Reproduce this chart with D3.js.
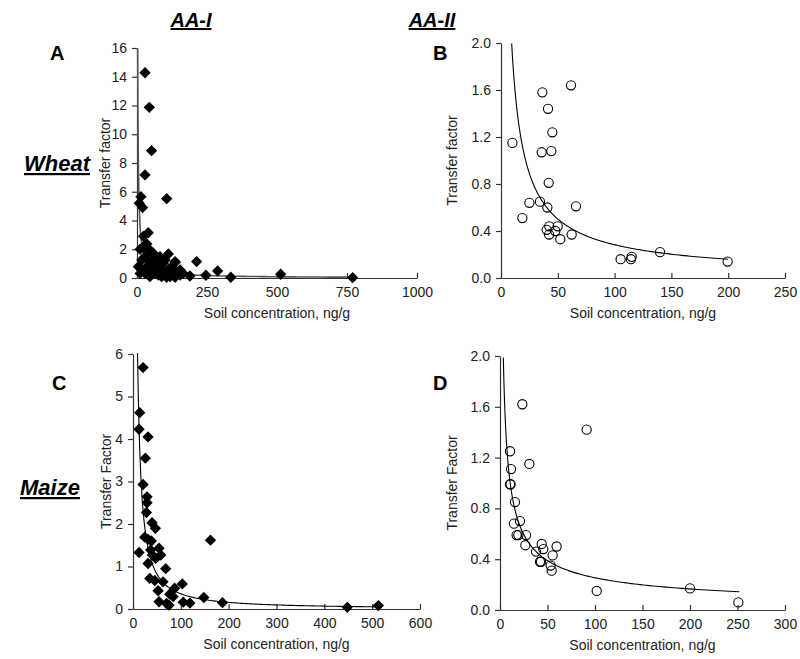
<!DOCTYPE html>
<html><head><meta charset="utf-8">
<script src="https://cdn.jsdelivr.net/npm/d3@7"></script>
<style>body{margin:0;background:#fff} text{font-family:Arial,"Liberation Sans",sans-serif}</style>
</head><body><svg id="c" width="800" height="659"></svg>
<script>
// ---- Data ----
const colTitles = ["AA-I", "AA-II"];
const rowTitles = ["Wheat", "Maize"];
const panelLetters = ["A", "B", "C", "D"];
const yTitles = ["Transfer factor", "Transfer factor", "Transfer Factor", "Transfer Factor"];
const xTitle = "Soil concentration, ng/g";

const ticksAx = [0, 250, 500, 750, 1000];
const ticksAy = [0, 2, 4, 6, 8, 10, 12, 14, 16];
const ticksBx = [0, 50, 100, 150, 200, 250];
const ticksBy = [0, 0.4, 0.8, 1.2, 1.6, 2.0];
const ticksCx = [0, 100, 200, 300, 400, 500, 600];
const ticksCy = [0, 1, 2, 3, 4, 5, 6];
const ticksDx = [0, 50, 100, 150, 200, 250, 300];
const ticksDy = [0, 0.4, 0.8, 1.2, 1.6, 2.0];

// Panel A: wheat, AA-I
const wheatAAI_x = [28.6, 44, 52, 28.6, 106, 14, 8, 20, 40, 23, 35, 11, 112, 213, 136, 288, 246, 189, 335, 513, 770,
  4.8, 16.7, 28.6, 40.5, 52.4, 64.3, 76.2, 88.1, 94, 100, 112, 118, 124, 130, 142, 154, 165, 46, 70, 82, 58, 40, 29, 23, 46, 76, 106, 136, 154, 17, 35, 11, 52, 64, 88, 100, 136];
const wheatAAI_y = [14.28, 11.87, 8.86, 7.17, 5.52, 5.66, 5.2, 4.9, 3.15, 2.9, 2.37, 2.0, 1.67, 1.14, 1.07, 0.49, 0.19, 0.14, 0.05, 0.26, 0.02,
  0.79, 0.56, 0.32, 1.25, 0.79, 0.32, 0.56, 0.09, 1.02, 0.32, 0.56, 0.09, 0.79, 0.32, 0.44, 0.21, 0.32, 0.09, 1.14, 1.48, 1.72, 1.72, 1.48, 2.18, 1.95, 0.21, 0.05, 0.05, 0.56, 1.25, 0.79, 0.32, 0.44, 1.37, 0.67, 1.25, 1.14];

// Panel B: wheat, AA-II
const wheatAAII_x = [61.6, 36.4, 41.4, 45.2, 10, 35.8, 44.3, 42, 25, 34.3, 40.8, 66, 18.8, 42.5, 49.9, 40.2, 47.8, 42.3, 52.2, 62.2, 105.3, 114.4, 115, 140, 199.5];
const wheatAAII_y = [1.64, 1.58, 1.44, 1.24, 1.15, 1.07, 1.08, 0.81, 0.64, 0.65, 0.60, 0.61, 0.51, 0.44, 0.44, 0.41, 0.40, 0.37, 0.33, 0.37, 0.16, 0.16, 0.18, 0.22, 0.14];

// Panel C: maize, AA-I
const maizeAAI_x = [21, 14, 12.6, 31.4, 25.8, 21, 29.3, 29.3, 28, 39.8, 46.8, 162, 24.4, 31.4, 38.4, 12.6, 37, 54.5, 58, 40.5, 47.5, 31.4, 68.4, 35, 45.4, 62.8, 103, 87, 52.4, 76.8, 84, 148, 54.5, 70, 75.4, 105, 119, 187, 448, 513];
const maizeAAI_y = [5.68, 4.62, 4.23, 4.05, 3.55, 2.93, 2.64, 2.5, 2.27, 2.03, 1.9, 1.62, 1.69, 1.64, 1.6, 1.33, 1.39, 1.43, 1.27, 1.27, 1.19, 1.07, 0.95, 0.72, 0.67, 0.64, 0.59, 0.49, 0.43, 0.35, 0.29, 0.27, 0.17, 0.13, 0.09, 0.16, 0.14, 0.15, 0.04, 0.08];

// Panel D: maize, AA-II
const maizeAAII_x = [23.5, 91.2, 10.5, 11.6, 30.9, 10.5, 11.2, 15.8, 14.7, 21, 17.5, 19.3, 27.4, 26.7, 37.9, 43.9, 45.6, 59.6, 42.1, 43.2, 55.4, 53.3, 54.4, 101.8, 200, 250.9];
const maizeAAII_y = [1.62, 1.42, 1.25, 1.11, 1.15, 0.99, 0.99, 0.85, 0.68, 0.70, 0.59, 0.59, 0.59, 0.51, 0.46, 0.52, 0.48, 0.50, 0.38, 0.38, 0.43, 0.35, 0.31, 0.15, 0.17, 0.06];

// power-law trend lines y = a * x^-b, drawn between xStart and xEnd
const trendA = [38, 0.98, 2.42, 770];
const trendB = [12.7, 0.826, 9.4, 200];
const trendC = [89.8, 1.2, 9.5, 517];
const trendD = [4.29, 0.614, 3.5, 252];

// ---- Drawing ----
const svg = d3.select("#c");
const panels = [
  {xs: wheatAAI_x, ys: wheatAAI_y, xd: [0, 1000], yd: [0, 16], xt: ticksAx, yt: ticksAy, fmt: d3.format("d"), x0: 137, x1: 417, y0: 278, y1: 48, mk: "diamond", tr: trendA, lineCol: "#555", lineW: 1.6, lx: 50, ly: 60, yl: 110},
  {xs: wheatAAII_x, ys: wheatAAII_y, xd: [0, 250], yd: [0, 2], xt: ticksBx, yt: ticksBy, fmt: d3.format(".1f"), x0: 501, x1: 785, y0: 278, y1: 43, mk: "circle", tr: trendB, lineCol: "#000", lineW: 1.1, lx: 433, ly: 60, yl: 457},
  {xs: maizeAAI_x, ys: maizeAAI_y, xd: [0, 600], yd: [0, 6], xt: ticksCx, yt: ticksCy, fmt: d3.format("d"), x0: 133, x1: 420, y0: 609, y1: 354, mk: "diamond", tr: trendC, lineCol: "#000", lineW: 1.1, lx: 52, ly: 390, yl: 111},
  {xs: maizeAAII_x, ys: maizeAAII_y, xd: [0, 300], yd: [0, 2], xt: ticksDx, yt: ticksDy, fmt: d3.format(".1f"), x0: 500, x1: 785, y0: 610, y1: 356, mk: "circle", tr: trendD, lineCol: "#000", lineW: 1.1, lx: 433, ly: 390, yl: 457}
];

panels.forEach((p, i) => {
  const x = d3.scaleLinear().domain(p.xd).range([p.x0, p.x1]);
  const y = d3.scaleLinear().domain(p.yd).range([p.y0, p.y1]);
  const g = svg.append("g");

  // x axis (ticks pointing up into plot)
  const gx = g.append("g").attr("transform", `translate(0,${p.y0})`)
    .call(d3.axisBottom(x).tickValues(p.xt).tickSizeInner(-5).tickSizeOuter(0).tickPadding(9).tickFormat(d3.format("d")));
  // y axis
  const gy = g.append("g").attr("transform", `translate(${p.x0},0)`)
    .call(d3.axisLeft(y).tickValues(p.yt).tickSizeInner(5).tickSizeOuter(0).tickPadding(5).tickFormat(p.fmt));
  [gx, gy].forEach(a => {
    a.select(".domain").attr("stroke", "#333").attr("stroke-width", 1.2);
    a.selectAll(".tick line").attr("stroke", "#333").attr("stroke-width", 1.2);
    a.selectAll(".tick text").attr("font-size", 14).attr("fill", "#222").attr("font-family", "Arial, 'Liberation Sans', sans-serif");
  });

  // trend line
  const [a, b, xs0, xs1] = p.tr;
  const n = 200;
  const pts = d3.range(n + 1).map(k => {
    const xv = xs0 * Math.pow(xs1 / xs0, k / n);
    return [xv, a * Math.pow(xv, -b)];
  });
  g.append("path").datum(pts)
    .attr("d", d3.line().x(d => x(d[0])).y(d => y(d[1])))
    .attr("fill", "none").attr("stroke", p.lineCol).attr("stroke-width", p.lineW);

  // points
  const data = p.xs.map((v, k) => [v, p.ys[k]]);
  if (p.mk === "diamond") {
    g.append("g").selectAll("path").data(data).join("path")
      .attr("d", d3.symbol().type(d3.symbolSquare).size(64))
      .attr("transform", d => `translate(${x(d[0])},${y(d[1])}) rotate(45)`)
      .attr("fill", "#000");
  } else {
    g.append("g").selectAll("circle").data(data).join("circle")
      .attr("cx", d => x(d[0])).attr("cy", d => y(d[1])).attr("r", 4.6)
      .attr("fill", "none").attr("stroke", "#000").attr("stroke-width", 1.1);
  }

  // y title
  const ym = (p.y0 + p.y1) / 2;
  g.append("text").attr("transform", `translate(${p.yl},${ym}) rotate(-90)`)
    .attr("text-anchor", "middle").attr("font-size", 14).attr("fill", "#222").text(yTitles[i]);
  // x title
  g.append("text").attr("x", (p.x0 + p.x1) / 2).attr("y", p.y0 + 40)
    .attr("text-anchor", "middle").attr("font-size", 14).attr("fill", "#222").text(xTitle);
  // panel letter
  g.append("text").attr("x", p.lx).attr("y", p.ly).attr("font-size", 20).attr("font-weight", "bold").text(panelLetters[i]);
});

// column titles
[[191, colTitles[0]], [432, colTitles[1]]].forEach(([cx, t]) => {
  svg.append("text").attr("x", cx).attr("y", 27).attr("text-anchor", "middle")
    .attr("font-size", 20).attr("font-weight", "bold").attr("font-style", "italic")
    .attr("text-decoration", "underline").text(t);
});
// row titles
[[24, 171, rowTitles[0]], [20, 495, rowTitles[1]]].forEach(([lx, ly, t]) => {
  svg.append("text").attr("x", lx).attr("y", ly)
    .attr("font-size", 22).attr("font-weight", "bold").attr("font-style", "italic")
    .attr("text-decoration", "underline").text(t);
});
</script></body></html>
